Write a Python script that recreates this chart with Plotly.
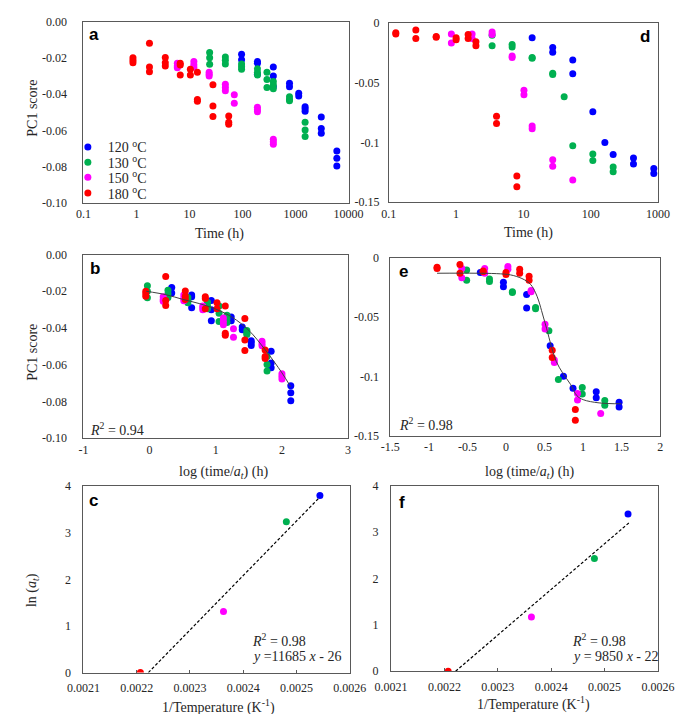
import plotly.graph_objects as go

W, H = 685, 714

temps = ["120", "130", "150", "180"]
colors = ["#0000FF", "#00B050", "#FF00FF", "#FF0000"]

# ---------- Panel a : PC1 score vs time (h), replicates per time ----------
a_time_120 = [96, 191, 381, 769, 1148, 1514, 3055, 6000]
a_pc1_120 = [[-0.018, -0.021], [-0.022, -0.023, -0.029], [-0.025, -0.030, -0.036],
             [-0.034, -0.036], [-0.0395, -0.041], [-0.047, -0.048, -0.0495],
             [-0.0526, -0.059, -0.0616], [-0.0714, -0.0753, -0.0796]]
a_time_130 = [24, 47.5, 96, 191, 289, 381, 769, 1514]
a_pc1_130 = [[-0.017, -0.020, -0.0235], [-0.0195, -0.0213, -0.0234], [-0.0234, -0.0249, -0.0263],
             [-0.026, -0.028, -0.0295], [-0.028, -0.032, -0.0364], [-0.033, -0.035, -0.037],
             [-0.0414, -0.0429, -0.0436], [-0.0555, -0.0598, -0.0634]]
a_time_150 = [5.9, 12.1, 23.5, 47.5, 70, 191, 381]
a_pc1_150 = [[-0.023, -0.0245, -0.0255], [-0.022, -0.0238, -0.0252], [-0.028, -0.029, -0.030],
             [-0.0346, -0.0364, -0.0382], [-0.0404, -0.045], [-0.0472, -0.0486, -0.0497],
             [-0.0649, -0.0663, -0.0677]]
a_time_180 = [0.86, 1.76, 3.5, 6.7, 10.4, 14.1, 27.7, 55]
a_pc1_180 = [[-0.020, -0.0213, -0.0227], [-0.012, -0.025, -0.0277], [-0.0198, -0.0227, -0.0245],
             [-0.023, -0.024, -0.0295], [-0.0263, -0.0295], [-0.028, -0.0429, -0.044],
             [-0.0348, -0.0465, -0.0523], [-0.052, -0.0555, -0.0566]]

# ---------- Panel b : shifted log times (same PC1 values as a) ----------
b_logt_120 = [0.335, 0.636, 0.933, 1.234, 1.400, 1.536, 1.837, 2.134]
b_logt_130 = [-0.033, 0.278, 0.579, 0.876, 1.050, 1.170, 1.470, 1.775]
b_logt_150 = [0.206, 0.517, 0.804, 1.115, 1.268, 1.699, 2.000]
b_logt_180 = [-0.057, 0.244, 0.540, 0.842, 1.019, 1.144, 1.440, 1.746]
b_fit_x = [-0.05, 0.25, 0.5, 0.75, 1.0, 1.25, 1.5, 1.75, 2.0, 2.13]
b_fit_y = [-0.0200, -0.0219, -0.0244, -0.0267, -0.0297, -0.0342, -0.0413, -0.0520, -0.0644, -0.0719]

# ---------- Panel d : PC1 score vs time (h) ----------
d_time_120 = [13.5, 27.3, 54.2, 107.7, 162.6, 216, 433, 868]
d_pc1_120 = [[-0.0123], [-0.0205, -0.0244], [-0.0309, -0.0424], [-0.0742], [-0.0999],
             [-0.110], [-0.113, -0.118], [-0.1218, -0.1259]]
d_time_130 = [3.43, 6.8, 13.5, 27.3, 40.4, 54.2, 107.7, 216]
d_pc1_130 = [[-0.0102, -0.0189], [-0.0178, -0.020], [-0.0287, -0.0293], [-0.0419, -0.043],
             [-0.0616], [-0.1026], [-0.1095, -0.115], [-0.1204, -0.1245]]
d_time_150 = [0.85, 1.73, 3.43, 6.8, 10.2, 13.5, 27.3, 54.2]
d_pc1_150 = [[-0.009, -0.0167], [-0.009, -0.0129], [-0.0074, -0.0096], [-0.0276, -0.0287],
             [-0.0561, -0.060], [-0.0862, -0.0884], [-0.1144, -0.1199], [-0.1314]]
d_time_180 = [0.127, 0.252, 0.506, 1.0, 1.51, 1.97, 3.99, 8.0]
d_pc1_180 = [[-0.008, -0.009], [-0.0057, -0.0129], [-0.0112, -0.0118], [-0.0123, -0.014],
             [-0.0096, -0.0129], [-0.0156, -0.0189], [-0.078, -0.084], [-0.128, -0.137]]

# ---------- Panel e : shifted log times (same PC1 values as d) ----------
e_logt_120 = [-0.333, -0.033, 0.268, 0.573, 0.746, 0.870, 1.171, 1.468]
e_logt_130 = [-0.510, -0.214, 0.083, 0.384, 0.557, 0.680, 0.990, 1.282]
e_logt_150 = [-0.573, -0.276, 0.025, 0.326, 0.507, 0.627, 0.928, 1.229]
e_logt_180 = [-0.894, -0.597, -0.296, 0.000, 0.178, 0.300, 0.600, 0.900]
e_fit_x = [-0.894, -0.070, 0.095, 0.239, 0.322, 0.384, 0.425, 0.474, 0.528, 0.590,
           0.652, 0.734, 0.837, 0.920, 1.002, 1.208, 1.497]
e_fit_y = [-0.0130, -0.0135, -0.0149, -0.0185, -0.0226, -0.0295, -0.0364, -0.0474, -0.0598,
           -0.0750, -0.0874, -0.0970, -0.1067, -0.1163, -0.1197, -0.1224, -0.1232]

# ---------- Panels c and f : Arrhenius plots ----------
inv_temp = [0.002544, 0.002481, 0.002363, 0.002207]   # 120, 130, 150, 180 C
c_ln_at = [3.80, 3.24, 1.31, 0.0]
c_fit_x = [0.002222, 0.002545]
c_fit_y = [0.0, 3.78]
f_ln_at = [3.39, 2.43, 1.17, 0.0]
f_fit_x = [0.002221, 0.002546]
f_fit_y = [0.0, 3.20]

a_times = [a_time_120, a_time_130, a_time_150, a_time_180]
a_vals = [a_pc1_120, a_pc1_130, a_pc1_150, a_pc1_180]
b_logt = [b_logt_120, b_logt_130, b_logt_150, b_logt_180]
d_times = [d_time_120, d_time_130, d_time_150, d_time_180]
d_vals = [d_pc1_120, d_pc1_130, d_pc1_150, d_pc1_180]
e_logt = [e_logt_120, e_logt_130, e_logt_150, e_logt_180]


def expand(xs, reps):
    X, Y = [], []
    for x, r in zip(xs, reps):
        for v in r:
            X.append(x)
            Y.append(v)
    return X, Y


fig = go.Figure()
MS = 7
legend_ids = ["legend", "legend2", "legend3", "legend4"]

for i in range(4):
    x, y = expand(a_times[i], a_vals[i])
    fig.add_trace(go.Scatter(x=x, y=y, mode="markers", xaxis="x", yaxis="y",
                             marker=dict(color=colors[i], size=MS),
                             name=temps[i] + " <sup>o</sup>C", showlegend=True,
                             legend=legend_ids[i]))
for i in range(4):
    x, y = expand(d_times[i], d_vals[i])
    fig.add_trace(go.Scatter(x=x, y=y, mode="markers", xaxis="x2", yaxis="y2",
                             marker=dict(color=colors[i], size=MS), showlegend=False))
for i in range(4):
    x, y = expand(b_logt[i], a_vals[i])
    fig.add_trace(go.Scatter(x=x, y=y, mode="markers", xaxis="x3", yaxis="y3",
                             marker=dict(color=colors[i], size=MS), showlegend=False))
fig.add_trace(go.Scatter(x=b_fit_x, y=b_fit_y, mode="lines", xaxis="x3", yaxis="y3",
                         line=dict(color="#404040", width=1, shape="spline"), showlegend=False))
for i in range(4):
    x, y = expand(e_logt[i], d_vals[i])
    fig.add_trace(go.Scatter(x=x, y=y, mode="markers", xaxis="x4", yaxis="y4",
                             marker=dict(color=colors[i], size=MS), showlegend=False))
fig.add_trace(go.Scatter(x=e_fit_x, y=e_fit_y, mode="lines", xaxis="x4", yaxis="y4",
                         line=dict(color="#404040", width=1, shape="spline"), showlegend=False))

fig.add_trace(go.Scatter(x=c_fit_x, y=c_fit_y, mode="lines", xaxis="x5", yaxis="y5",
                         line=dict(color="black", width=1.2, dash="3px,2px"), showlegend=False))
fig.add_trace(go.Scatter(x=inv_temp, y=c_ln_at, mode="markers", xaxis="x5", yaxis="y5",
                         marker=dict(color=colors, size=MS), showlegend=False))
fig.add_trace(go.Scatter(x=f_fit_x, y=f_fit_y, mode="lines", xaxis="x6", yaxis="y6",
                         line=dict(color="black", width=1.2, dash="3px,2px"), showlegend=False))
fig.add_trace(go.Scatter(x=inv_temp, y=f_ln_at, mode="markers", xaxis="x6", yaxis="y6",
                         marker=dict(color=colors, size=MS), showlegend=False))


def px_dom_x(l, r):
    return [l / W, r / W]


def px_dom_y(top, bottom):
    return [1 - bottom / H, 1 - top / H]


SERIF = "Liberation Serif"
TXT = "#262626"
LINE = "#595959"
tickfont = dict(family=SERIF, size=12, color=TXT)


def xax(dom, anchor, rng, vals, texts, typ="linear", standoff=0, ticks=""):
    return dict(domain=dom, anchor=anchor, range=rng, type=typ, tickvals=vals, ticktext=texts,
                showline=True, mirror=True, linecolor=LINE, linewidth=1, showgrid=False,
                zeroline=False, ticks=ticks, ticklen=3, tickcolor=LINE, tickfont=tickfont,
                ticklabelstandoff=standoff, fixedrange=True)


def yax(dom, anchor, rng, vals, texts, standoff=10):
    return dict(domain=dom, anchor=anchor, range=rng, tickvals=vals, ticktext=texts,
                showline=True, mirror=True, linecolor=LINE, linewidth=1, showgrid=False,
                zeroline=False, ticks="", tickfont=tickfont, ticklabelstandoff=standoff,
                fixedrange=True)


pc_vals = [0, -0.02, -0.04, -0.06, -0.08, -0.10]
pc_text = ["0.00", "-0.02", "-0.04", "-0.06", "-0.08", "-0.10"]
de_vals = [0, -0.05, -0.10, -0.15]
de_text = ["0", "-0.05", "-0.1", "-0.15"]
invT_vals = [0.0021, 0.0022, 0.0023, 0.0024, 0.0025, 0.0026]
invT_text = ["0.0021", "0.0022", "0.0023", "0.0024", "0.0025", "0.0026"]
ln_vals = [0, 1, 2, 3, 4]
ln_text = ["0", "1", "2", "3", "4"]

legend_rows = [135, 150.5, 166, 182]
legend_cfg = {}
for lid, yrow in zip(legend_ids, legend_rows):
    legend_cfg[lid] = dict(x=46 / W, y=1 - yrow / H, xanchor="left", yanchor="middle",
                           bgcolor="rgba(0,0,0,0)", borderwidth=0, itemwidth=30,
                           font=dict(family=SERIF, size=14, color=TXT))

fig.update_layout(
    width=W, height=H, margin=dict(l=0, r=0, t=0, b=0),
    paper_bgcolor="white", plot_bgcolor="white",
    xaxis=xax(px_dom_x(62.3, 340.5), "y", [-1, 4], [0.1, 1, 10, 100, 1000, 10000],
              ["0.1", "1", "10", "100", "1000", "10000"], typ="log"),
    yaxis=yax(px_dom_y(6.7, 191.7), "x", [-0.10, 0], pc_vals, pc_text, standoff=13),
    xaxis2=xax(px_dom_x(382.7, 665), "y2", [-1, 3], [0.1, 1, 10, 100, 1000],
               ["0.1", "1", "10", "100", "1000"], typ="log"),
    yaxis2=yax(px_dom_y(8.3, 191), "x2", [-0.15, 0], de_vals, de_text, standoff=6),
    xaxis3=xax(px_dom_x(62.3, 340), "y3", [-1, 3], [-1, 0, 1, 2, 3], ["-1", "0", "1", "2", "3"]),
    yaxis3=yax(px_dom_y(244.3, 431.7), "x3", [-0.10, 0], pc_vals, pc_text, standoff=13),
    xaxis4=xax(px_dom_x(384.3, 667.3), "y4", [-1.5, 2], [-1.5, -1, -0.5, 0, 0.5, 1, 1.5, 2],
               ["-1.5", "-1", "-0.5", "0", "0.5", "1", "1.5", "2"]),
    yaxis4=yax(px_dom_y(247.7, 429), "x4", [-0.15, 0], de_vals, de_text, standoff=8),
    xaxis5=xax(px_dom_x(62.3, 341.7), "y5", [0.0021, 0.0026], invT_vals, invT_text,
               standoff=4, ticks="inside"),
    yaxis5=yax(px_dom_y(480.7, 670.7), "x5", [0, 4], ln_vals, ln_text, standoff=9),
    xaxis6=xax(px_dom_x(385, 665), "y6", [0.0021, 0.0026], invT_vals, invT_text,
               standoff=4, ticks="inside"),
    yaxis6=yax(px_dom_y(480, 669.3), "x6", [0, 4], ln_vals, ln_text, standoff=9),
    showlegend=True,
    **legend_cfg,
)


def ann(text, x, y, size=14, bold=False, angle=0, xanchor="center", family=SERIF):
    fig.add_annotation(text=("<b>%s</b>" % text) if bold else text, xref="paper", yref="paper",
                       x=x / W, y=1 - y / H, xanchor=xanchor, yanchor="middle",
                       showarrow=False, textangle=angle,
                       font=dict(family=family, size=size, color="black" if bold else TXT))


# panel letters
for letter, x, y in [("a", 73, 20), ("d", 651, 22), ("b", 75, 259),
                     ("e", 398, 262), ("c", 73, 495), ("f", 397, 497)]:
    ann(letter, x, y, size=17, bold=True, family="Liberation Sans")

# axis titles
ann("Time (h)", 205, 223)
ann("Time (h)", 529, 222)
ann("log (time/<i>a<sub>t</sub></i>) (h)", 209, 467)
ann("log (time/<i>a<sub>t</sub></i>) (h)", 530, 467)
ann("1/Temperature (K<sup>-1</sup>)", 204, 705)
ann("1/Temperature (K<sup>-1</sup>)", 534, 702)
ann("PC1 score", 9, 95, angle=-90)
ann("PC1 score", 9, 344, angle=-90)
ann("ln (<i>a<sub>t</sub></i>)", 9, 587, angle=-90)

# statistics text
ann("<i>R</i><sup>2</sup> = 0.94", 67, 422, xanchor="left")
ann("<i>R</i><sup>2</sup> = 0.98", 391, 417, xanchor="left")
ann("<i>R</i><sup>2</sup> = 0.98", 237, 638, xanchor="left")
ann("<i>y</i> =11685 <i>x</i> - 26", 237, 654, xanchor="left")
ann("<i>R</i><sup>2</sup> = 0.98", 573, 637, xanchor="left")
ann("<i>y</i> = 9850 <i>x</i> - 22", 573, 654, xanchor="left")

fig.write_html("out.html")
